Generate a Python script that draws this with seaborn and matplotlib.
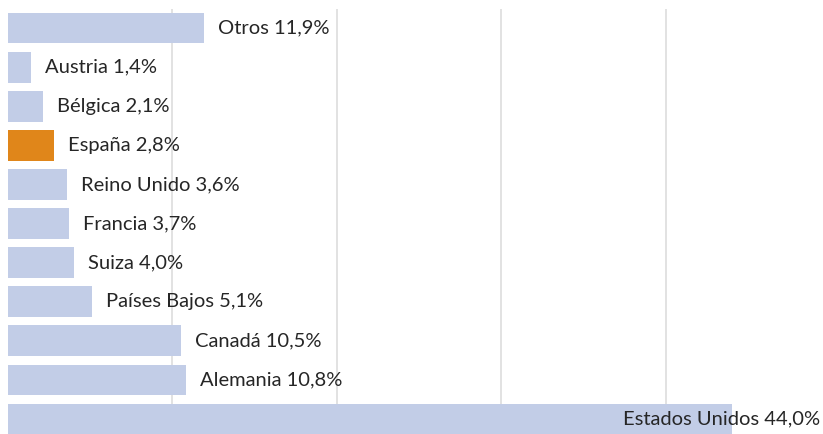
import matplotlib
matplotlib.use("Agg")
import matplotlib.pyplot as plt
import seaborn as sns
import pandas as pd

# data (share in %)
paises = ["Otros", "Austria", "Bélgica", "España", "Reino Unido", "Francia",
          "Suiza", "Países Bajos", "Canadá", "Alemania", "Estados Unidos"]
cuota = [11.9, 1.4, 2.1, 2.8, 3.6, 3.7, 4.0, 5.1, 10.5, 10.8, 44.0]
destacado = "España"

azul = "#C2CDE7"
naranja = "#E0861A"

df = pd.DataFrame({"pais": paises, "cuota": cuota})
df["grupo"] = ["si" if p == destacado else "no" for p in paises]

sns.set_style("white")
plt.rcParams["font.family"] = ["Lato", "DejaVu Sans"]

fig = plt.figure(figsize=(8.23, 4.34), dpi=100)
ax = fig.add_axes([8 / 823, 0, 815 / 823, 425 / 434])

sns.barplot(data=df, x="cuota", y="pais", hue="grupo", dodge=False,
            palette={"no": azul, "si": naranja}, width=0.79, saturation=1,
            linewidth=0, legend=False, ax=ax, zorder=3)

ax.set_xlim(0, 49.55)
ax.set_ylim(10.38, -0.486)
ax.set_xticks([10, 20, 30, 40])
ax.xaxis.grid(True, color="#DDDDDD", linewidth=1.2, zorder=0)
ax.set_axisbelow(True)
ax.tick_params(left=False, bottom=False, labelleft=False, labelbottom=False)
ax.set_xlabel("")
ax.set_ylabel("")
for s in ax.spines.values():
    s.set_visible(False)

for i, (p, v) in enumerate(zip(paises, cuota)):
    txt = f"{p} {v:.1f}%".replace(".", ",")
    if v > 40:
        ax.text(49.4, i, txt, ha="right", va="center", fontsize=14.5,
                color="#262626", zorder=5)
    else:
        ax.text(v + 0.85, i, txt, ha="left", va="center", fontsize=14.5,
                color="#262626", zorder=5)

fig.savefig("out.png", dpi=100)
